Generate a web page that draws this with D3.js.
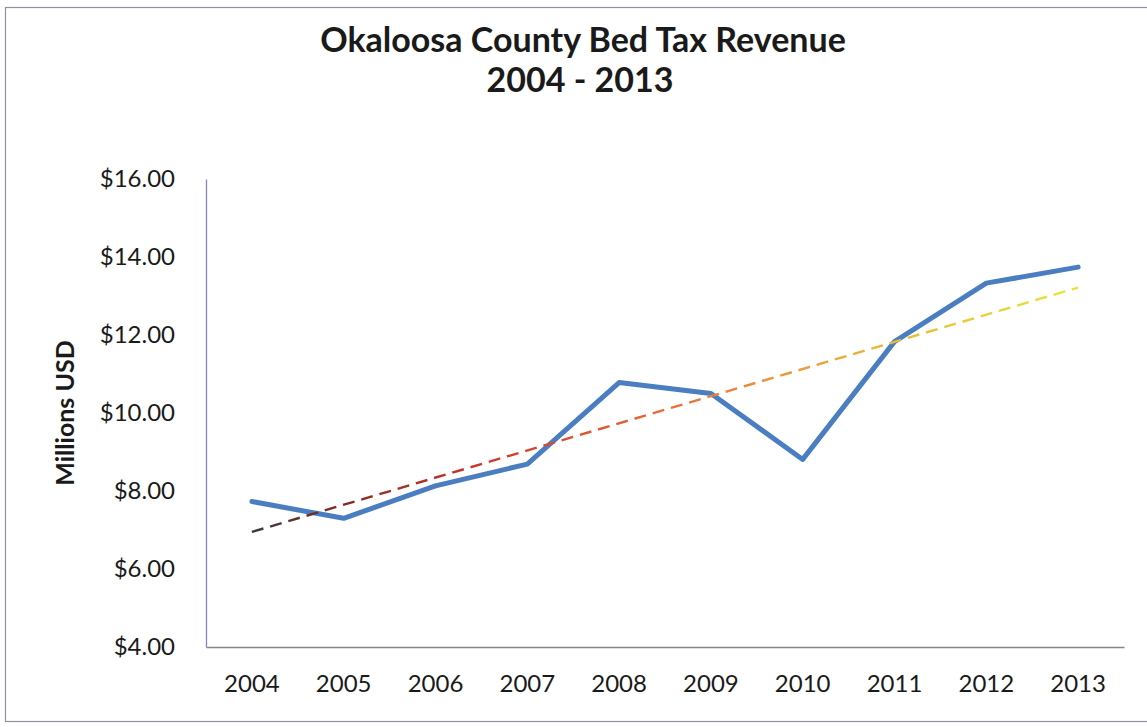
<!DOCTYPE html>
<html>
<head>
<meta charset="utf-8">
<script src="https://cdn.jsdelivr.net/npm/d3@7/dist/d3.min.js"></script>
<style>
  html, body { margin: 0; padding: 0; background: #fff; }
  svg { display: block; }
  text { font-family: Lato, "Open Sans", "DejaVu Sans", sans-serif; fill: #1a1a1a; }
</style>
</head>
<body>
<svg id="chart" width="1147" height="727"></svg>
<script>
// Bed tax revenue by fiscal year, in millions of US dollars
const years = ["2004", "2005", "2006", "2007", "2008", "2009", "2010", "2011", "2012", "2013"];
const revenue = [7.73, 7.30, 8.13, 8.69, 10.78, 10.50, 8.81, 11.83, 13.33, 13.74];
const yTicks = [4, 6, 8, 10, 12, 14, 16];
const titleLines = ["Okaloosa County Bed Tax Revenue", "2004 - 2013"];
const yTitle = "Millions USD";

const svg = d3.select("#chart");
const plot = { left: 206, right: 1124, top: 179, bottom: 647 };

// Outer chart frame
svg.append("rect")
  .attr("x", 5.5).attr("y", 7.5)
  .attr("width", 1160).attr("height", 714)
  .attr("fill", "#fff")
  .attr("stroke", "#8f90a0").attr("stroke-width", 1.2);

const x = d3.scaleBand().domain(years).range([plot.left, plot.right]).padding(0);
const cx = d => x(d) + x.bandwidth() / 2;
const y = d3.scaleLinear().domain([4, 16]).range([plot.bottom, plot.top]);

// Title
const title = svg.append("text")
  .attr("text-anchor", "middle")
  .attr("font-weight", "bold")
  .attr("font-size", 34);
title.append("tspan").attr("x", 583).attr("y", 52).text(titleLines[0]);
title.append("tspan").attr("x", 580).attr("y", 92).text(titleLines[1]);

// Y axis
const yAxis = svg.append("g")
  .attr("transform", `translate(${plot.left},0)`)
  .call(d3.axisLeft(y).tickValues(yTicks).tickSize(0).tickPadding(31)
    .tickFormat(d3.format("$.2f")));
yAxis.select(".domain").attr("stroke", "#8485b8").attr("stroke-width", 1.3);
yAxis.selectAll("text")
  .attr("font-size", 24).attr("fill", "#1a1a1a")
  .style("font-family", "Lato, 'Open Sans', sans-serif");

// X axis
const xAxis = svg.append("g")
  .attr("transform", `translate(0,${plot.bottom})`)
  .call(d3.axisBottom(x).tickSize(0).tickPadding(28));
xAxis.select(".domain").attr("stroke", "#85868f").attr("stroke-width", 1.3);
xAxis.selectAll("text")
  .attr("font-size", 24).attr("fill", "#1a1a1a")
  .style("font-family", "Lato, 'Open Sans', sans-serif");

// Y axis title
svg.append("text")
  .attr("transform", "translate(74,413) rotate(-90)")
  .attr("text-anchor", "middle")
  .attr("font-weight", "bold")
  .attr("font-size", 25)
  .text(yTitle);

// Least-squares linear trend over the series
const idx = revenue.map((_, i) => i);
const mx = d3.mean(idx), my = d3.mean(revenue);
const slope = d3.sum(idx, i => (i - mx) * (revenue[i] - my)) / d3.sum(idx, i => (i - mx) ** 2);
const intercept = my - slope * mx;
const trend = [0, years.length - 1].map(i => ({ year: years[i], v: intercept + slope * i }));

const defs = svg.append("defs");
const grad = defs.append("linearGradient")
  .attr("id", "trendGrad")
  .attr("gradientUnits", "userSpaceOnUse")
  .attr("x1", cx(years[0])).attr("y1", 0)
  .attr("x2", cx(years[years.length - 1])).attr("y2", 0);
[
  [0, "#3a3a3a"], [0.12, "#8a2a22"], [0.3, "#d23a2c"], [0.55, "#ea7b3a"],
  [0.75, "#eab43a"], [1, "#e6e63c"]
].forEach(([o, c]) => grad.append("stop").attr("offset", o).attr("stop-color", c));

const line = d3.line().x(d => cx(d.year)).y(d => y(d.v));

// Data series
svg.append("path")
  .datum(years.map((yr, i) => ({ year: yr, v: revenue[i] })))
  .attr("d", line)
  .attr("fill", "none")
  .attr("stroke", "#4a7ec0")
  .attr("stroke-width", 5)
  .attr("stroke-linejoin", "round")
  .attr("stroke-linecap", "round");

// Trend line
svg.append("path")
  .datum(trend)
  .attr("d", line)
  .attr("fill", "none")
  .attr("stroke", "url(#trendGrad)")
  .attr("stroke-width", 2.4)
  .attr("stroke-dasharray", "12,7");
</script>
</body>
</html>
